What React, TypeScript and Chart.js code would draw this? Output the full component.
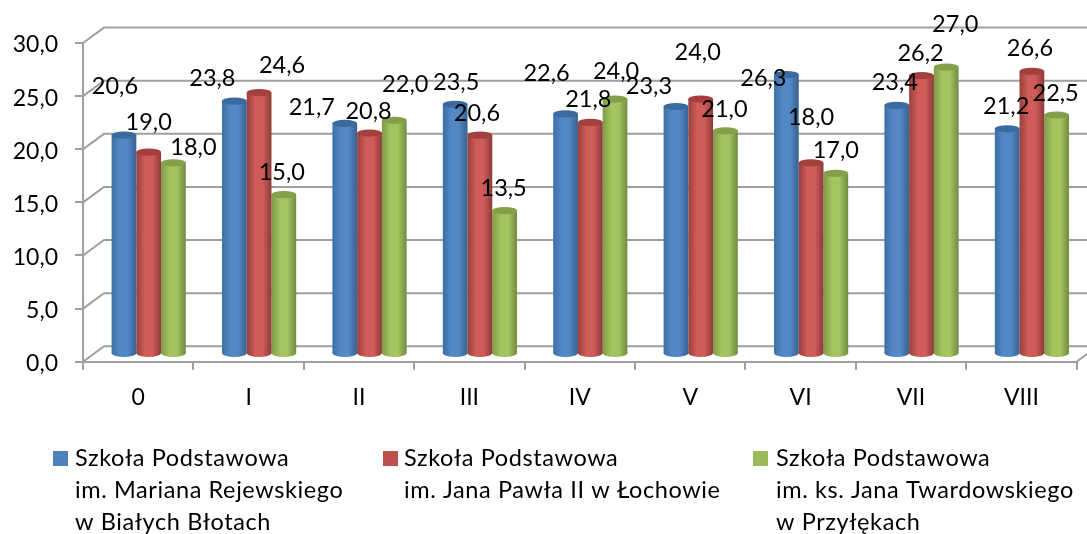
import React, { useEffect, useRef } from "react";
import { Chart, registerables } from "chart.js";

Chart.register(...registerables);

const categories = ["0", "I", "II", "III", "IV", "V", "VI", "VII", "VIII"];
const rejewskiValues = [20.6, 23.8, 21.7, 23.5, 22.6, 23.3, 26.3, 23.4, 21.2];
const pawlaValues = [19.0, 24.6, 20.8, 20.6, 21.8, 24.0, 18.0, 26.2, 26.6];
const twardowskiValues = [18.0, 15.0, 22.0, 13.5, 24.0, 21.0, 17.0, 27.0, 22.5];
const rejewskiName = ["Szkoła Podstawowa", "im. Mariana Rejewskiego", "w Białych Błotach"];
const pawlaName = ["Szkoła Podstawowa", "im. Jana Pawła II w Łochowie"];
const twardowskiName = ["Szkoła Podstawowa", "im. ks. Jana Twardowskiego", "w Przyłękach"];

// Hand-placed data label shifts from the top of each bar, per series then category.
const labelShifts = [
  [[-9, -50], [-22, -24], [-33, -18], [1, -23], [-19, -42], [-27, -22], [-23, 2], [-2, -24], [-1, -24]],
  [[0, -31], [23, -29], [-1, -23], [-3, -23], [-2, -24], [-3, -48], [0, -47], [-1, -24], [-2, -24]],
  [[20, -17], [-2, -24], [11, -37], [-1, -24], [1, -29], [-1, -23], [0, -24], [9, -44], [-1, -23]],
];

const FONT = '"Lato", sans-serif';
const GREY = "#9f9f9f";
const DEPTH_X = 21;
const DEPTH_Y = 15.4;
const RY = 3.6;
const RY_BASE = 4;

const palette = [
  { edgeL: "#3f6fa6", mid: "#5387c6", edgeR: "#38618f", top: "#3b6a9f", swatch: "#4f81bd" },
  { edgeL: "#983f3c", mid: "#cf5c59", edgeR: "#8c3a37", top: "#a3403d", swatch: "#c0504d" },
  { edgeL: "#7f9a47", mid: "#a3c45f", edgeR: "#718a41", top: "#84a04b", swatch: "#9bbb59" },
];

const legendSpots = [
  { swatchX: 53, textX: 75 },
  { swatchX: 383, textX: 404 },
  { swatchX: 753, textX: 776 },
];

const fmt = (v: number) => v.toFixed(1).replace(".", ",");

function cylinderGradient(ctx: CanvasRenderingContext2D, el: any, c: any) {
  const l = el.x - el.width / 2;
  const g = ctx.createLinearGradient(l, 0, l + el.width, 0);
  g.addColorStop(0, c.edgeL);
  g.addColorStop(0.35, c.mid);
  g.addColorStop(0.65, c.mid);
  g.addColorStop(1, c.edgeR);
  return g;
}

const wallPlugin = {
  id: "wall3d",
  beforeDraw(chart: any) {
    // Lato sits high with a middle baseline: nudge the axis labels down to the ticks.
    ["x", "y"].forEach((k) => {
      chart.scales[k].getLabelItems(chart.chartArea).forEach((it: any) => {
        if (!it.nudged) {
          it.options = { ...it.options, translation: [it.options.translation[0], it.options.translation[1] + 2] };
          it.nudged = true;
        }
      });
    });
  },
  beforeDatasetsDraw(chart: any) {
    const { ctx, chartArea, scales } = chart;
    ctx.save();
    ctx.strokeStyle = GREY;
    ctx.lineWidth = 2;
    scales.y.ticks.forEach((_: any, i: number) => {
      const y = scales.y.getPixelForTick(i);
      ctx.beginPath();
      ctx.moveTo(chartArea.left, y);
      ctx.lineTo(chartArea.left + DEPTH_X, y - DEPTH_Y);
      ctx.lineTo(chartArea.right + DEPTH_X, y - DEPTH_Y);
      ctx.stroke();
    });
    ctx.beginPath();
    ctx.moveTo(chartArea.right, chartArea.bottom);
    ctx.lineTo(chartArea.right + DEPTH_X, chartArea.bottom - DEPTH_Y);
    ctx.stroke();
    ctx.restore();
    ctx.save();
    ctx.translate(DEPTH_X / 2, -DEPTH_Y / 2);
  },
  beforeDatasetDraw(chart: any, args: any) {
    const { ctx } = chart;
    const c = palette[args.index];
    args.meta.data.forEach((el: any) => {
      const fill = cylinderGradient(ctx, el, c);
      el.options = { ...el.options, backgroundColor: fill };
      ctx.fillStyle = fill;
      ctx.beginPath();
      ctx.ellipse(el.x, el.base, el.width / 2, RY_BASE, 0, 0, Math.PI * 2);
      ctx.fill();
    });
  },
  afterDatasetDraw(chart: any, args: any) {
    const { ctx } = chart;
    const c = palette[args.index];
    args.meta.data.forEach((el: any) => {
      ctx.fillStyle = c.top;
      ctx.beginPath();
      ctx.ellipse(el.x, el.y, el.width / 2, RY, 0, 0, Math.PI * 2);
      ctx.fill();
    });
  },
  afterDatasetsDraw(chart: any) {
    chart.ctx.restore();
  },
};

const labelPlugin = {
  id: "labels3d",
  afterDraw(chart: any) {
    const { ctx } = chart;
    ctx.save();
    ctx.fillStyle = "#000";
    ctx.font = `23.5px ${FONT}`;
    ctx.textAlign = "center";
    ctx.textBaseline = "middle";
    chart.data.datasets.forEach((ds: any, s: number) => {
      chart.getDatasetMeta(s).data.forEach((el: any, i: number) => {
        const [dx, dy] = labelShifts[s][i];
        ctx.fillText(fmt(ds.data[i]), el.x + DEPTH_X / 2 + dx, el.y - DEPTH_Y / 2 + dy + 1.5);
      });
    });
    ctx.restore();
  },
};

const legendPlugin = {
  id: "legendBlock",
  afterDraw(chart: any) {
    const { ctx } = chart;
    ctx.save();
    ctx.font = `23.5px ${FONT}`;
    (ctx as any).letterSpacing = "0.6px";
    ctx.textBaseline = "middle";
    ctx.textAlign = "left";
    chart.data.datasets.forEach((ds: any, s: number) => {
      const spot = legendSpots[s];
      ctx.fillStyle = palette[s].swatch;
      ctx.fillRect(spot.swatchX, 451, 15, 15);
      ctx.fillStyle = "#000";
      ds.nameLines.forEach((line: string, n: number) => {
        ctx.fillText(line, spot.textX, 458.5 + n * 31.8);
      });
    });
    ctx.restore();
  },
};

export default function App() {
  const ref = useRef<HTMLCanvasElement | null>(null);
  useEffect(() => {
    const series = [
      { name: rejewskiName, values: rejewskiValues },
      { name: pawlaName, values: pawlaValues },
      { name: twardowskiName, values: twardowskiValues },
    ];
    const chart = new Chart(ref.current as HTMLCanvasElement, {
      type: "bar",
      data: {
        labels: categories,
        datasets: series.map((s, i) => ({
          label: s.name.join(" "),
          nameLines: s.name,
          data: s.values,
          backgroundColor: palette[i].swatch,
          borderWidth: 0,
          barPercentage: 1,
          categoryPercentage: 0.672,
          clip: false,
        })) as any,
      },
      options: {
        animation: false,
        responsive: false,
        layout: { padding: { top: 43, right: 10.4, left: 0, bottom: 0 } },
        plugins: { legend: { display: false }, tooltip: { enabled: false } },
        scales: {
          x: {
            afterFit: (s: any) => { s.height = 172.3; },
            grid: { drawOnChartArea: false, color: GREY, lineWidth: 2, tickLength: 8 },
            border: { color: GREY, width: 2 },
            ticks: { color: "#000", padding: 12, font: { family: FONT, size: 23 }, maxRotation: 0 },
          },
          y: {
            min: 0,
            max: 30,
            afterFit: (s: any) => { s.width = 83; },
            grid: { drawOnChartArea: false, color: GREY, lineWidth: 2, tickLength: 8 },
            border: { color: GREY, width: 2 },
            ticks: {
              stepSize: 5,
              color: "#000",
              padding: 17,
              font: { family: FONT, size: 23 },
              callback: (v: any) => fmt(Number(v)),
            },
          },
        },
      },
      plugins: [wallPlugin, labelPlugin, legendPlugin],
    } as any);
    return () => chart.destroy();
  }, []);
  return (
    <canvas
      ref={ref}
      width={1087}
      height={534}
      style={{ position: "absolute", left: 0, top: 0, width: 1087, height: 534, display: "block" }}
    />
  );
}
